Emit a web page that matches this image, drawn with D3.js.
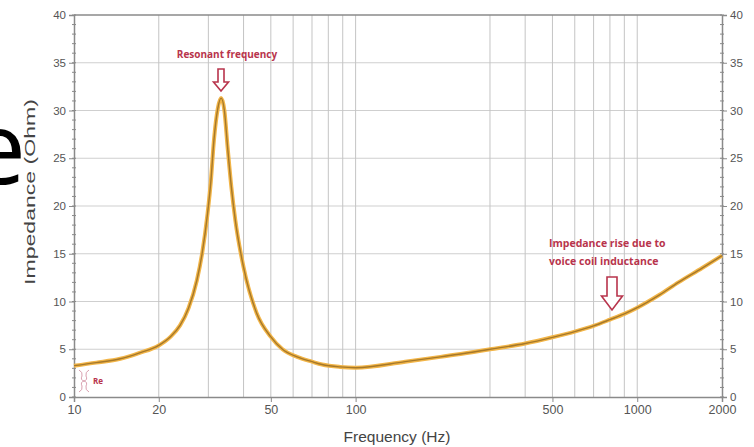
<!DOCTYPE html>
<html>
<head>
<meta charset="utf-8">
<script src="https://cdn.jsdelivr.net/npm/d3@7"></script>
<style>
  body { margin: 0; background: #fff; }
  svg { display: block; }
</style>
</head>
<body>
<svg width="754" height="447"></svg>
<script>
// impedance curve
var freqs = [10, 12, 14.6, 17, 20, 22, 23.8, 25.5, 27.3, 28.5, 29.8, 30.6, 31.4, 32.4, 33.3, 34.2, 35.1, 36.2, 37.4, 40, 44.5, 50, 55, 62, 70, 76, 88, 100, 150, 200, 300, 400, 500, 600, 700, 800, 900, 1000, 1200, 1400, 1700, 2000];
var imped = [3.28, 3.6, 4.0, 4.6, 5.4, 6.3, 7.5, 9.3, 12.2, 15, 19.2, 22.5, 26.9, 30.2, 31.3, 30, 26.2, 22, 18.5, 13.6, 8.8, 6.3, 5.0, 4.2, 3.7, 3.4, 3.15, 3.07, 3.7, 4.2, 5.0, 5.6, 6.25, 6.85, 7.45, 8.1, 8.7, 9.35, 10.7, 12.0, 13.5, 14.8];

var xGrid = [20, 30, 40, 50, 60, 70, 80, 90, 100, 300, 400, 500, 600, 700, 800, 900, 1000];
var xTickLabels = [10, 20, 50, 100, 500, 1000, 2000];
var yTicks = [0, 5, 10, 15, 20, 25, 30, 35, 40];

var svg = d3.select("svg");
var mLeft = 74, mRight = 722, mTop = 15, mBottom = 397;

var x = d3.scaleLog().domain([10, 2000]).range([mLeft, mRight]);
var y = d3.scaleLinear().domain([0, 40]).range([mBottom, mTop]);

// big cropped letter on the left
svg.append("text")
   .attr("x", 26).attr("y", 184)
   .attr("text-anchor", "end")
   .style("font-family", "Open Sans")
   .style("font-size", "101px")
   .attr("fill", "#000")
   .text("e");

// grid
svg.append("g").selectAll("line")
   .data(yTicks.slice(1, -1))
   .enter().append("line")
   .attr("x1", mLeft).attr("x2", mRight)
   .attr("y1", function(d) { return y(d); })
   .attr("y2", function(d) { return y(d); })
   .attr("stroke", "#cfcfcf").attr("stroke-width", 1);

svg.append("g").selectAll("line")
   .data(xGrid)
   .enter().append("line")
   .attr("x1", function(d) { return x(d); })
   .attr("x2", function(d) { return x(d); })
   .attr("y1", mTop).attr("y2", mBottom)
   .attr("stroke", "#c4c4c4").attr("stroke-width", 1);

// top border
svg.append("line")
   .attr("x1", mLeft).attr("x2", mRight).attr("y1", mTop).attr("y2", mTop)
   .attr("stroke", "#8a8a8a").attr("stroke-width", 1.5);

// axes
var yLeft = d3.axisLeft(y).tickValues(yTicks).tickSize(5).tickPadding(3);
var yRight = d3.axisRight(y).tickValues(yTicks).tickSize(5).tickPadding(3);
var xAxis = d3.axisBottom(x).tickValues(xTickLabels).tickFormat(d3.format("d")).tickSize(5).tickPadding(3);

var minor = d3.range(0, 41, 1);

function styleAxis(g) {
  g.select(".domain").attr("stroke", "#8a8a8a").attr("stroke-width", 1.5);
  g.selectAll(".tick line").attr("stroke", "#8a8a8a");
  g.selectAll(".tick text").attr("fill", "#555")
   .style("font-family", "Liberation Sans, Arial, sans-serif").style("font-size", "11.5px");
}

var gl = svg.append("g").attr("transform", "translate(" + mLeft + ",0)").call(yLeft);
styleAxis(gl);
gl.selectAll(".minor").data(minor).enter().append("line")
  .attr("x1", -2).attr("x2", 2)
  .attr("y1", function(d) { return y(d); }).attr("y2", function(d) { return y(d); })
  .attr("stroke", "#8a8a8a");

var gr = svg.append("g").attr("transform", "translate(" + mRight + ",0)").call(yRight);
styleAxis(gr);
gr.selectAll(".minor").data(minor).enter().append("line")
  .attr("x1", -2).attr("x2", 2)
  .attr("y1", function(d) { return y(d); }).attr("y2", function(d) { return y(d); })
  .attr("stroke", "#8a8a8a");

var gx = svg.append("g").attr("transform", "translate(0," + mBottom + ")").call(xAxis);
styleAxis(gx);
gx.selectAll(".tick text").style("font-size", "12.5px");

// axis titles
svg.append("text")
   .attr("transform", "translate(35,192) rotate(-90)")
   .attr("text-anchor", "middle")
   .attr("textLength", 186).attr("lengthAdjust", "spacingAndGlyphs")
   .style("font-family", "Liberation Sans, Arial, sans-serif")
   .style("font-size", "15px").attr("fill", "#444")
   .text("Impedance (Ohm)");

svg.append("text")
   .attr("x", 397).attr("y", 442)
   .attr("text-anchor", "middle")
   .style("font-family", "Liberation Sans, Arial, sans-serif")
   .style("font-size", "15.5px").attr("fill", "#444")
   .text("Frequency (Hz)");

// impedance curve
var line = d3.line()
   .x(function(d, i) { return x(freqs[i]); })
   .y(function(d) { return y(d); })
   .curve(d3.curveMonotoneX);

svg.append("path").datum(imped)
   .attr("d", line).attr("fill", "none")
   .attr("stroke", "#f2b548").attr("stroke-width", 4);
svg.append("path").datum(imped)
   .attr("d", line).attr("fill", "none")
   .attr("stroke", "#a5782a").attr("stroke-width", 1.4);

// annotations
var red = "#b8344c";
function downArrow(cx, yTop, yTip, w, headW, headH) {
  var p = d3.path();
  p.moveTo(cx - w / 2, yTop);
  p.lineTo(cx + w / 2, yTop);
  p.lineTo(cx + w / 2, yTip - headH);
  p.lineTo(cx + headW / 2, yTip - headH);
  p.lineTo(cx, yTip);
  p.lineTo(cx - headW / 2, yTip - headH);
  p.lineTo(cx - w / 2, yTip - headH);
  p.closePath();
  svg.append("path").attr("d", p.toString())
     .attr("fill", "#fff").attr("stroke", red).attr("stroke-width", 1.6);
}

svg.append("text")
   .attr("x", 227).attr("y", 58).attr("text-anchor", "middle")
   .style("font-family", "Open Sans").style("font-weight", "bold")
   .style("font-size", "10px").attr("fill", red)
   .text("Resonant frequency");
downArrow(221, 69, 91, 6, 15, 9);

var note = svg.append("text")
   .style("font-family", "Open Sans").style("font-weight", "bold")
   .style("font-size", "10.5px").attr("fill", red);
note.append("tspan").attr("x", 549).attr("y", 247).text("Impedance rise due to");
note.append("tspan").attr("x", 549).attr("y", 265).text("voice coil inductance");
downArrow(612, 277, 310, 10, 21, 14);

// Re marker
var re = d3.path();
re.moveTo(79, 370); re.quadraticCurveTo(83, 372, 82, 376);
re.quadraticCurveTo(80, 380, 84, 381);
re.quadraticCurveTo(80, 382, 82, 386);
re.quadraticCurveTo(83, 390, 79, 392);
re.moveTo(89, 370); re.quadraticCurveTo(85, 372, 86, 376);
re.quadraticCurveTo(88, 380, 84, 381);
re.quadraticCurveTo(88, 382, 86, 386);
re.quadraticCurveTo(85, 390, 89, 392);
svg.append("path").attr("d", re.toString())
   .attr("fill", "none").attr("stroke", "#d9a0b0").attr("stroke-width", 1);
svg.append("text")
   .attr("x", 93).attr("y", 384)
   .style("font-family", "Open Sans").style("font-weight", "bold")
   .style("font-size", "8px").attr("fill", red)
   .text("Re");
</script>
</body>
</html>
